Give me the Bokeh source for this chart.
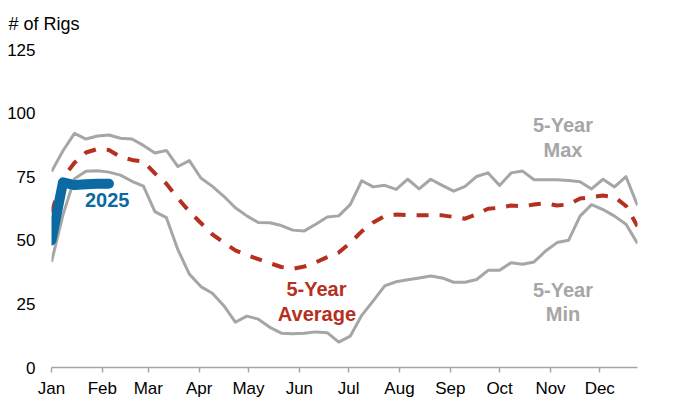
from bokeh.plotting import figure
from bokeh.models import Range1d, FixedTicker, Label
from bokeh.embed import file_html
from bokeh.resources import INLINE

# ---- data ----
weeks = list(range(1, 53))
max5 = [77, 85.2, 92, 89.8, 91, 91.4, 90.1, 89.8, 87.3, 84.3, 85.3, 79, 81.3,
        74.5, 71.2, 67.3, 62.8, 59.6, 57, 56.9, 55.8, 54, 53.7, 56.3, 59.2, 59.6,
        64, 73.4, 71, 71.6, 70, 74, 70.2, 74, 71.6, 69.3, 71.2, 75.1, 76.5, 71.5,
        76.5, 77.2, 73.8, 73.8, 73.8, 73.5, 73, 70.2, 74, 71, 75, 63.7]
min5 = [41.5, 60, 74.2, 77.1, 77.3, 76.8, 75.6, 73.2, 71.3, 61.3, 58.9, 46.3, 36.7,
        31.8, 29.2, 24.3, 17.8, 20.2, 19, 15.8, 13.5, 13.3, 13.5, 14, 13.7, 10,
        12.3, 20.5, 26.2, 32.1, 33.7, 34.5, 35.2, 36, 35.2, 33.5, 33.5, 34.6, 38.2,
        38.2, 41.2, 40.6, 41.5, 45.8, 49.1, 50, 59.5, 64, 62.1, 59.5, 56.3, 48.8]
avg5 = [61, 74.5, 80.5, 84.5, 85.9, 85.5, 82.8, 81.6, 81, 76.3, 72.2, 66.5, 61.3,
        56.8, 52.3, 49.1, 46, 44.2, 42.6, 41, 39.5, 38.8, 39.7, 41.3, 43.4, 45.2,
        49, 53.5, 57, 59.5, 60.1, 59.9, 59.8, 59.9, 59.8, 59.2, 58.5, 60.3, 62.4,
        62.8, 63.7, 63.3, 64.1, 64.5, 63.7, 64.1, 66.4, 67, 67.6, 67, 63.5, 55.5]
weeks_2025 = [1, 2, 3, 4, 5, 6]
rigs_2025 = [50, 72.8, 71.7, 72, 72.2, 72.2]

month_labels = ["Jan", "Feb", "Mar", "Apr", "May", "Jun",
                "Jul", "Aug", "Sep", "Oct", "Nov", "Dec"]
month_start_day = [0, 31, 59, 90, 120, 151, 181, 212, 243, 273, 304, 334]
y_ticks = [0, 25, 50, 75, 100, 125]

# week number -> day of year
day = [(w - 1) * 7 for w in weeks]
day_2025 = [(w - 1) * 7 for w in weeks_2025]

GRAY = "#a6a6a6"
RED = "#b5301f"
BLUE = "#0b6aa2"
FONT = "Liberation Sans"

p = figure(width=676, height=400, output_backend="svg", toolbar_location=None,
           x_range=Range1d(0, day[-1]), y_range=Range1d(0, 125),
           min_border_left=51, min_border_right=39, min_border_top=49,
           min_border_bottom=31, background_fill_color="white")
p.outline_line_color = None
p.grid.visible = False

# title
p.title.text = "# of Rigs"
p.title.align = "left"
p.title.vertical_align = "top"
p.title.text_font = FONT
p.title.text_font_size = "18px"
p.title.text_font_style = "normal"
p.title.text_color = "black"
p.title.offset = -43
p.title.standoff = 27

# x axis
p.xaxis.ticker = FixedTicker(ticks=month_start_day)
p.xaxis.major_label_overrides = {d: m for d, m in zip(month_start_day, month_labels)}
p.xaxis.minor_tick_line_color = None
p.xaxis.major_tick_in = 0
p.xaxis.major_tick_out = 5
p.xaxis.axis_line_color = GRAY
p.xaxis.axis_line_width = 1.5
p.xaxis.major_tick_line_color = GRAY
p.xaxis.major_tick_line_width = 1.5
p.xaxis.major_label_text_font = FONT
p.xaxis.major_label_text_font_size = "17px"
p.xaxis.major_label_text_color = "black"
p.xaxis.major_label_standoff = 6

# y axis
p.yaxis.ticker = FixedTicker(ticks=y_ticks)
p.yaxis.axis_line_color = None
p.yaxis.major_tick_line_color = None
p.yaxis.minor_tick_line_color = None
p.yaxis.major_tick_in = 0
p.yaxis.major_tick_out = 0
p.yaxis.major_label_standoff = 16
p.yaxis.major_label_text_font = FONT
p.yaxis.major_label_text_font_size = "17px"
p.yaxis.major_label_text_color = "black"

# lines
p.line(day, max5, line_color=GRAY, line_width=3, line_join="round")
p.line(day, min5, line_color=GRAY, line_width=3, line_join="round")
p.line(day, avg5, line_color=RED, line_width=4, line_dash="12 11")
p.line(day_2025, rigs_2025, line_color=BLUE, line_width=10,
       line_cap="round", line_join="round")

# text annotations
def add_label(x, y, text, color, size="20px"):
    p.add_layout(Label(x=x, y=y, text=text, text_color=color, text_font=FONT,
                       text_font_size=size, text_font_style="bold",
                       text_align="center", text_baseline="middle"))

add_label(33.9, 66, "2025", BLUE)
add_label(311.6, 95.3, "5-Year", GRAY)
add_label(311.6, 85.5, "Max", GRAY)
add_label(161.4, 30.9, "5-Year", RED)
add_label(161.7, 20.9, "Average", RED)
add_label(311.6, 30.3, "5-Year", GRAY)
add_label(311.6, 20.9, "Min", GRAY)

open("out.html", "w").write(file_html(p, INLINE))
